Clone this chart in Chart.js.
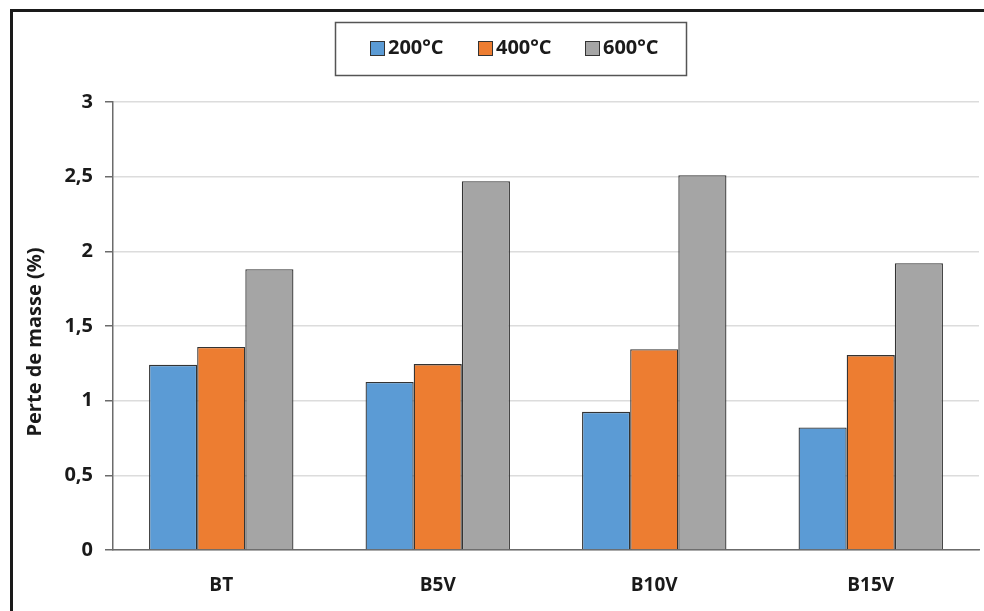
<!DOCTYPE html>
<html>
<head>
<meta charset="utf-8">
<script src="https://cdn.jsdelivr.net/npm/chart.js@4.4.0/dist/chart.umd.min.js"></script>
<style>
  html, body { margin:0; padding:0; background:#fff; overflow:hidden; }
  #wrap { position:relative; width:984px; height:611px; }
  #frame { position:absolute; left:10px; top:9px; width:2000px; height:2000px;
           border-left:3px solid #1a1a1a; border-top:3px solid #1a1a1a; pointer-events:none; }
  canvas { position:absolute; left:0; top:0; }
</style>
</head>
<body>
<div id="wrap">
  <canvas id="c" width="984" height="611"></canvas>
  <div id="frame"></div>
</div>
<script>
const categories = ['BT', 'B5V', 'B10V', 'B15V'];
const seriesLabels = ['200°C', '400°C', '600°C'];
const values200 = [1.24, 1.125, 0.925, 0.82];
const values400 = [1.36, 1.245, 1.345, 1.305];
const values600 = [1.88, 2.47, 2.51, 1.92];
const yTicks = [0, 0.5, 1, 1.5, 2, 2.5, 3];
const yTitle = 'Perte de masse (%)';

const colors = ['#5B9BD5', '#ED7D31', '#A5A5A5'];
const FONT = '"Open Sans", Lato, sans-serif';

const extras = {
  id: 'extras',
  afterDraw(chart) {
    const ctx = chart.ctx;
    ctx.save();
    // legend box
    ctx.strokeStyle = '#555';
    ctx.lineWidth = 1.5;
    ctx.strokeRect(335.5, 22.5, 351, 53);
    const xs = [370, 478, 585];
    chart.data.datasets.forEach((ds, i) => {
      ctx.fillStyle = ds.backgroundColor;
      ctx.fillRect(xs[i], 41, 15, 15);
      ctx.strokeStyle = '#333';
      ctx.lineWidth = 1;
      ctx.strokeRect(xs[i] + 0.5, 41.5, 14, 14);
      ctx.fillStyle = '#1a1a1a';
      ctx.font = 'bold 20px ' + FONT;
      ctx.textBaseline = 'middle';
      ctx.textAlign = 'left';
      ctx.fillText(ds.label, xs[i] + 18, 48.5);
    });
    // y axis title
    ctx.translate(35, 342);
    ctx.rotate(-Math.PI / 2);
    ctx.fillStyle = '#1a1a1a';
    ctx.font = 'bold 20px ' + FONT;
    ctx.textAlign = 'center';
    ctx.textBaseline = 'middle';
    ctx.fillText(yTitle, 0, 0);
    ctx.restore();
  }
};

new Chart(document.getElementById('c'), {
  type: 'bar',
  data: {
    labels: categories,
    datasets: [
      { label: seriesLabels[0], data: values200, backgroundColor: colors[0] },
      { label: seriesLabels[1], data: values400, backgroundColor: colors[1] },
      { label: seriesLabels[2], data: values600, backgroundColor: colors[2] }
    ]
  },
  options: {
    responsive: false,
    animation: false,
    devicePixelRatio: 1,
    layout: { padding: { left: 0, right: 5, top: 102, bottom: 0 } },
    datasets: {
      bar: {
        categoryPercentage: 0.667,
        barPercentage: 1.0,
        borderColor: '#333',
        borderWidth: 1.3,
        borderSkipped: 'bottom'
      }
    },
    plugins: {
      legend: { display: false },
      tooltip: { enabled: false }
    },
    scales: {
      x: {
        grid: { display: true, color: 'transparent', drawOnChartArea: false, drawTicks: false },
        border: { display: true, color: '#6b6b6b', width: 1.5 },
        ticks: {
          color: '#1a1a1a',
          font: { family: FONT, size: 19, weight: 'bold' },
          padding: 24
        },
        afterFit(scale) { scale.height = 61; }
      },
      y: {
        min: 0, max: 3,
        afterBuildTicks(scale) { scale.ticks = yTicks.map(v => ({ value: v })); },
        grid: { color: '#dcdcdc', lineWidth: 1.5, tickColor: '#6b6b6b', tickLength: 8 },
        border: { display: true, color: '#6b6b6b', width: 1.5 },
        ticks: {
          color: '#1a1a1a',
          font: { family: FONT, size: 20, weight: 'bold' },
          padding: 12,
          callback: v => String(v).replace('.', ',')
        },
        afterFit(scale) { scale.width = 113; }
      }
    }
  },
  plugins: [extras]
});
</script>
</body>
</html>
